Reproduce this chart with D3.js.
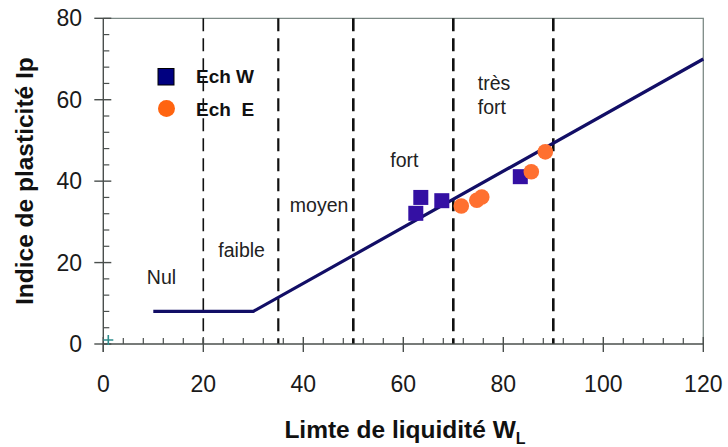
<!DOCTYPE html>
<html>
<head>
<meta charset="utf-8">
<script src="https://cdn.jsdelivr.net/npm/d3@7"></script>
<style>
  html, body { margin: 0; padding: 0; background: #fff; }
  svg text { font-family: "Liberation Sans", Arial, Helvetica, sans-serif; }
</style>
</head>
<body>
<svg id="chart" width="728" height="447"></svg>
<script>
// ---- data ----
const xTicks = [0, 20, 40, 60, 80, 100, 120];
const yTicks = [0, 20, 40, 60, 80];
const boundaries = [20, 35, 50, 70, 90];
const lineX = [10, 30, 120];
const lineY = [8, 8, 70];
const echW_x = [63.5, 62.5, 67.7, 83.4];
const echW_y = [36.0, 32.1, 35.2, 41.1];
const echE_x = [71.6, 74.7, 75.7, 85.6, 88.4];
const echE_y = [33.9, 35.3, 36.1, 42.3, 47.2];
const originMark = [1, 1];
const zoneLabels = ["Nul", "faible", "moyen", "fort", "très", "fort"];
const zoneLabelX = [8.7, 23, 37.3, 57.4, 74.9, 74.9];
const zoneLabelY = [14.8, 21.4, 32.5, 43.5, 62.5, 56.4];
const legendLabels = ["Ech W", "Ech  E"];

// ---- layout ----
const svg = d3.select("#chart");
const x = d3.scaleLinear().domain([0, 120]).range([103.3, 703.3]);
const y = d3.scaleLinear().domain([0, 80]).range([344, 18.3]);
const axisColor = "#4a4f4d";

// frame (top & right)
svg.append("path")
  .attr("d", `M${x(0)},${y(80)}H${x(120)}V${y(0)}`)
  .attr("fill", "none").attr("stroke", "#7d8a86").attr("stroke-width", 1.3);

// dashed zone boundaries
boundaries.forEach((b, i) => {
  svg.append("line")
    .attr("x1", x(b)).attr("x2", x(b))
    .attr("y1", y(80)).attr("y2", y(0))
    .attr("stroke", "#111")
    .attr("stroke-width", i === 0 ? 1.6 : (i === 1 ? 2.2 : 2.6))
    .attr("stroke-dasharray", "13,7");
});

// x axis
const xMinor = d3.range(0, 121, 4);
const gx = svg.append("g");
gx.append("line").attr("x1", x(0)).attr("x2", x(120)).attr("y1", y(0)).attr("y2", y(0))
  .attr("stroke", axisColor).attr("stroke-width", 1.4);
gx.selectAll("line.minor").data(xMinor.filter(v => v % 20 !== 0)).join("line")
  .attr("class", "minor")
  .attr("x1", d => x(d)).attr("x2", d => x(d))
  .attr("y1", y(0)).attr("y2", y(0) - 6)
  .attr("stroke", axisColor).attr("stroke-width", 1.2);
gx.selectAll("line.major").data(xTicks).join("line")
  .attr("class", "major")
  .attr("x1", d => x(d)).attr("x2", d => x(d))
  .attr("y1", y(0) - 7).attr("y2", y(0) + 8)
  .attr("stroke", axisColor).attr("stroke-width", 1.4);
gx.selectAll("text").data(xTicks).join("text")
  .attr("x", d => x(d)).attr("y", 392)
  .attr("text-anchor", "middle")
  .attr("font-size", 23).attr("fill", "#1a1a1a")
  .text(d => d);

// y axis
const yMinor = d3.range(0, 81, 4);
const gy = svg.append("g");
gy.append("line").attr("x1", x(0)).attr("x2", x(0)).attr("y1", y(0) + 8).attr("y2", y(80))
  .attr("stroke", axisColor).attr("stroke-width", 1.4);
gy.selectAll("line.minor").data(yMinor.filter(v => v % 20 !== 0)).join("line")
  .attr("class", "minor")
  .attr("x1", x(0)).attr("x2", x(0) + 6)
  .attr("y1", d => y(d)).attr("y2", d => y(d))
  .attr("stroke", axisColor).attr("stroke-width", 1.2);
gy.selectAll("line.major").data(yTicks).join("line")
  .attr("class", "major")
  .attr("x1", x(0) - 9).attr("x2", x(0) + 8)
  .attr("y1", d => y(d)).attr("y2", d => y(d))
  .attr("stroke", axisColor).attr("stroke-width", 1.4);
gy.selectAll("text").data(yTicks).join("text")
  .attr("x", 82).attr("y", d => y(d) + 8)
  .attr("text-anchor", "end")
  .attr("font-size", 23).attr("fill", "#1a1a1a")
  .text(d => d);

// classification line
const linePts = lineX.map((v, i) => [v, lineY[i]]);
svg.append("path")
  .attr("d", d3.line().x(d => x(d[0])).y(d => y(d[1]))(linePts))
  .attr("fill", "none").attr("stroke", "#120e66").attr("stroke-width", 3.2);

// origin marker (+)
svg.append("path")
  .attr("d", d3.symbol(d3.symbolCross, 0)())
  .attr("transform", `translate(${x(originMark[0])},${y(originMark[1])})`);
svg.append("path")
  .attr("d", `M${x(originMark[0]) - 5},${y(originMark[1])}h10M${x(originMark[0])},${y(originMark[1]) - 5}v10`)
  .attr("stroke", "#2e8c8c").attr("stroke-width", 1.6).attr("fill", "none");

// data: Ech W (squares)
const sq = 15;
svg.selectAll("rect.w").data(echW_x.map((v, i) => [v, echW_y[i]])).join("rect")
  .attr("class", "w")
  .attr("x", d => x(d[0]) - sq / 2).attr("y", d => y(d[1]) - sq / 2)
  .attr("width", sq).attr("height", sq)
  .attr("fill", "#3410a3");

// data: Ech E (circles)
svg.selectAll("circle.e").data(echE_x.map((v, i) => [v, echE_y[i]])).join("circle")
  .attr("class", "e")
  .attr("cx", d => x(d[0])).attr("cy", d => y(d[1]))
  .attr("r", 7.8)
  .attr("fill", "#ff7030");

// zone labels
svg.selectAll("text.zone").data(zoneLabels).join("text")
  .attr("class", "zone")
  .attr("x", (d, i) => x(zoneLabelX[i])).attr("y", (d, i) => y(zoneLabelY[i]))
  .attr("font-size", 19.5).attr("fill", "#222")
  .text(d => d);

// legend
svg.append("rect").attr("x", 158).attr("y", 68.5).attr("width", 16).attr("height", 16.5)
  .attr("fill", "#000080").attr("stroke", "#000").attr("stroke-width", 1);
svg.append("circle").attr("cx", 166.5).attr("cy", 108.5).attr("r", 8.5).attr("fill", "#ff6410");
svg.selectAll("text.leg").data(legendLabels).join("text")
  .attr("class", "leg")
  .attr("x", 196).attr("y", (d, i) => 83 + i * 33)
  .attr("font-size", 19).attr("font-weight", "bold").attr("fill", "#111")
  .attr("xml:space", "preserve")
  .style("white-space", "pre")
  .text(d => d);

// axis titles
const xt = svg.append("text")
  .attr("x", 405).attr("y", 438)
  .attr("text-anchor", "middle")
  .attr("font-size", 24.5).attr("font-weight", "bold").attr("fill", "#111");
xt.append("tspan").text("Limte de liquidité W");
xt.append("tspan").attr("font-size", 16).attr("dy", 6).text("L");

svg.append("text")
  .attr("transform", `translate(33,${(y(0) + y(80)) / 2}) rotate(-90)`)
  .attr("text-anchor", "middle")
  .attr("font-size", 24.5).attr("font-weight", "bold").attr("fill", "#111")
  .text("Indice de plasticité Ip");
</script>
</body>
</html>
